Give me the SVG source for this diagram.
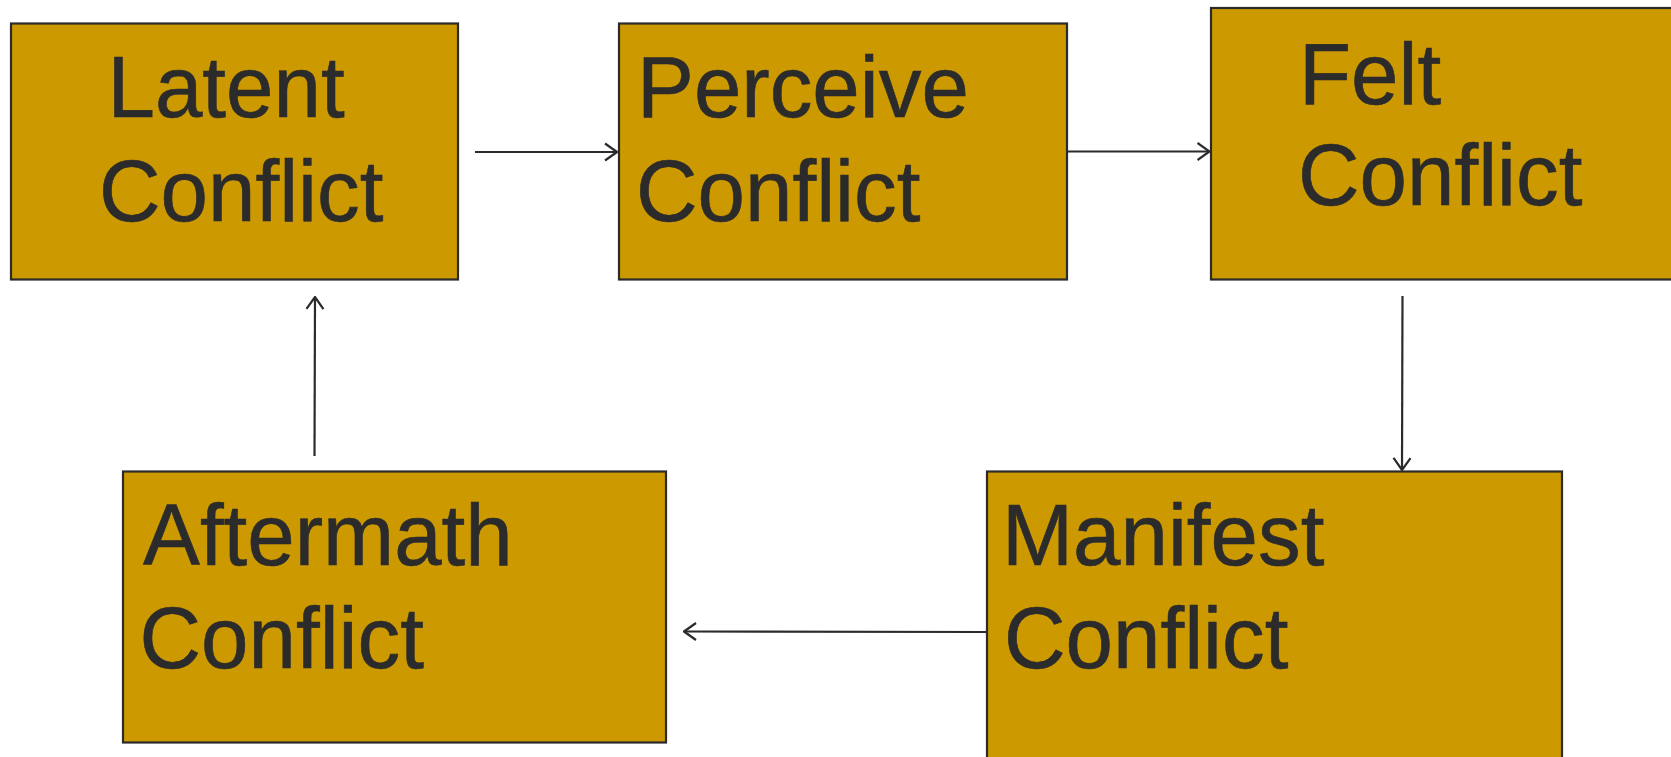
<svg xmlns="http://www.w3.org/2000/svg" width="1671" height="757" viewBox="0 0 1671 757">
<defs>
<style>
.box{fill:#CC9900;stroke:#2b2b2b;stroke-width:2.2}
.lbl{font-family:"Liberation Sans",Arial,sans-serif;font-size:85.3px;fill:#2b2b2b;stroke:#2b2b2b;stroke-width:0.6}
.edge{stroke:#2b2b2b;stroke-width:2.2;fill:none}
</style>
<marker id="arr" viewBox="0 0 14 20" refX="13" refY="10" markerWidth="14" markerHeight="20" markerUnits="userSpaceOnUse" orient="auto">
<path d="M1,1.5 L13,10 L1,18.5" fill="none" stroke="#2b2b2b" stroke-width="2.2"/>
</marker>
</defs>
<rect width="1671" height="757" fill="#ffffff"/>
<g id="latent">
<rect class="box" x="11" y="23.5" width="447" height="256"/>
<text class="lbl" transform="translate(107.5,117) scale(1,1.03)">Latent</text>
<text class="lbl" transform="translate(99,220.5) scale(1,1.03)">Conflict</text>
</g>
<g id="perceive">
<rect class="box" x="619" y="23.5" width="448" height="256"/>
<text class="lbl" transform="translate(637,117) scale(1,1.03)">Perceive</text>
<text class="lbl" transform="translate(636,220.5) scale(1,1.03)">Conflict</text>
</g>
<g id="felt">
<rect class="box" x="1211" y="8" width="480" height="271.5"/>
<text class="lbl" transform="translate(1299,103.5) scale(1,1.03)">Felt</text>
<text class="lbl" transform="translate(1298,204.5) scale(1,1.03)">Conflict</text>
</g>
<g id="aftermath">
<rect class="box" x="123" y="471.5" width="543" height="271"/>
<text class="lbl" transform="translate(143,565) scale(1,1.03)">Aftermath</text>
<text class="lbl" transform="translate(139.5,667.5) scale(1,1.03)">Conflict</text>
</g>
<g id="manifest">
<rect class="box" x="987" y="471.5" width="575" height="300"/>
<text class="lbl" transform="translate(1002,565) scale(1,1.03)">Manifest</text>
<text class="lbl" transform="translate(1004,667.5) scale(1,1.03)">Conflict</text>
</g>
<g id="connectors">
<line class="edge" x1="475" y1="152" x2="617" y2="152" marker-end="url(#arr)"/>
<line class="edge" x1="1068" y1="151.5" x2="1209.5" y2="151.5" marker-end="url(#arr)"/>
<line class="edge" x1="1402.5" y1="296" x2="1402" y2="470" marker-end="url(#arr)"/>
<line class="edge" x1="986" y1="632" x2="684" y2="631.5" marker-end="url(#arr)"/>
<line class="edge" x1="314.5" y1="456" x2="315" y2="297" marker-end="url(#arr)"/>
</g>
</svg>
